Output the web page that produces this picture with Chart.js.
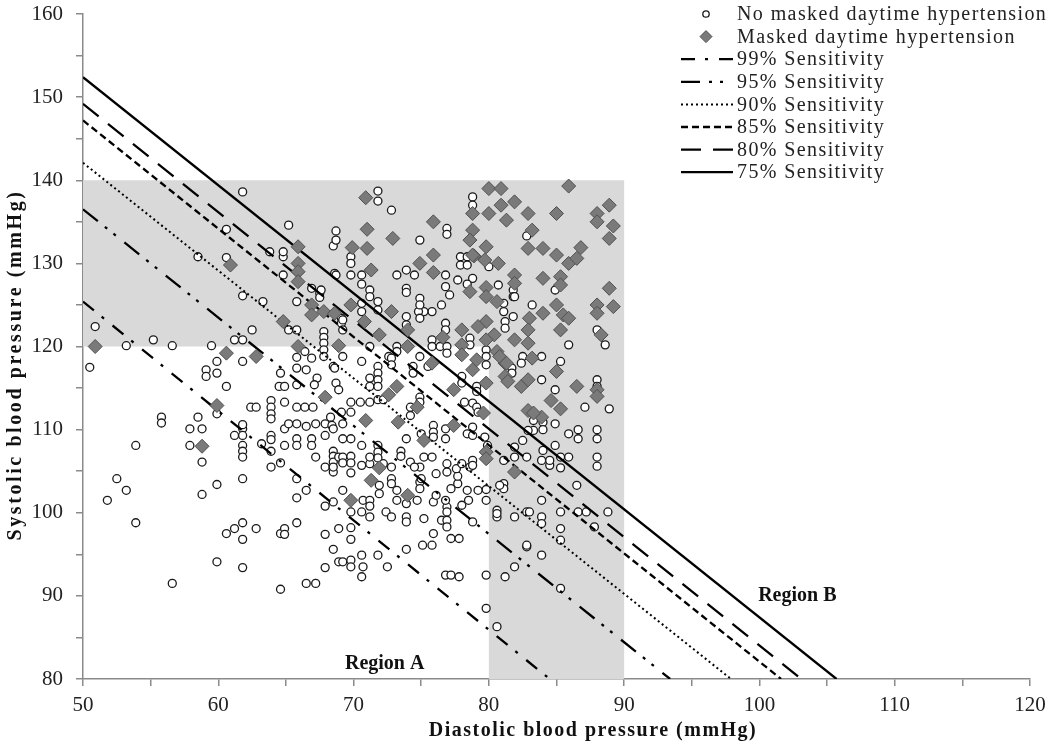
<!DOCTYPE html>
<html lang="en">
<head>
    <meta charset="UTF-8">
    <title>Masked daytime hypertension - sensitivity lines</title>
    <script src="https://cdn.jsdelivr.net/npm/chart.js"></script>
    <style>
        html, body { margin: 0; padding: 0; background: #fff; }
        .chart-container { position: relative; width: 1050px; height: 747px; }
    </style>
</head>
<body>
    <div class="chart-container">
        <canvas id="bpChart"></canvas>
    </div>

    <script>
        // points without masked daytime hypertension: [diastolic, systolic]
        const noMaskedPoints = [
            [50.5,117.5],[50.9,122.4],[51.8,101.5],[52.5,104.1],[53.2,102.7],[53.2,120.1],[53.9,108.1],[53.9,98.8],
            [55.2,120.8],[55.8,111.5],[55.8,110.8],[56.6,120.1],[56.6,91.5],[57.9,110.1],[58.8,110.1],[57.9,108.1],
            [58.8,106.1],[58.8,102.2],[58.5,111.5],[58.5,130.8],[59.1,117.2],[59.1,116.4],[59.5,120.1],[59.9,118.2],
            [59.9,116.8],[59.9,111.9],[59.9,103.4],[59.9,94.1],[60.6,115.2],[60.6,130.7],[60.6,134.1],[60.6,97.5],
            [61.2,120.8],[61.8,120.8],[61.8,118.2],[61.8,126.1],[61.8,138.6],[62.5,122.0],[63.3,125.4],[62.4,112.7],
            [62.8,112.7],[61.8,110.1],[61.8,109.3],[61.8,108.1],[61.8,107.4],[61.8,106.7],[61.8,104.1],[61.8,98.8],
            [61.8,96.8],[61.8,93.4],[61.8,110.6],[61.2,109.3],[61.2,98.1],[62.8,98.1],[63.2,108.3],[63.9,113.5],
            [63.9,112.7],[63.9,111.9],[63.9,111.3],[63.9,109.3],[63.9,108.8],[63.9,107.4],[63.9,105.5],[63.8,131.4],
            [64.5,115.2],[64.9,115.2],[64.6,116.8],[64.9,113.3],[64.6,106.0],[64.9,108.1],[64.9,110.1],[65.2,110.7],
            [64.6,97.5],[64.9,98.1],[64.9,97.4],[64.6,90.8],[64.8,130.8],[64.8,128.6],[64.8,131.4],[65.2,134.6],
            [65.2,122.0],[65.8,125.4],[65.8,122.0],[65.8,118.7],[65.8,117.4],[65.8,115.4],[65.8,112.7],[65.8,110.7],
            [65.8,108.9],[65.8,108.1],[65.8,104.1],[65.8,101.8],[65.8,98.8],[66.4,112.7],[66.4,119.4],[66.5,117.2],
            [66.5,110.4],[66.5,102.7],[66.5,91.5],[66.9,118.6],[66.9,108.9],[66.9,108.1],[66.9,127.0],[67.0,112.7],
            [67.2,106.7],[67.2,110.7],[67.2,91.5],[67.3,116.2],[67.1,115.4],[67.5,126.4],[67.5,125.9],[67.6,126.8],
            [67.8,121.8],[67.8,121.1],[67.8,120.4],[67.8,119.6],[67.8,118.8],[67.9,110.7],[67.9,109.3],[67.9,105.5],
            [67.9,100.8],[67.9,97.4],[67.9,93.4],[68.3,111.5],[68.4,110.5],[68.5,117.6],[68.5,110.1],[68.5,107.4],
            [68.5,106.8],[68.5,106.1],[68.5,104.9],[68.5,105.5],[68.5,101.3],[68.5,95.6],[68.5,132.1],[68.6,128.8],
            [68.6,117.4],[68.7,115.6],[68.7,128.6],[68.7,133.9],[68.7,132.8],[68.9,114.8],[68.9,98.1],[68.9,94.1],
            [68.9,106.7],[69.1,112.1],[69.1,123.4],[69.1,122.8],[69.2,118.8],[69.2,123.2],[69.2,122.0],[69.2,110.7],
            [69.2,108.9],[69.2,106.7],[69.2,106.0],[69.2,102.7],[69.2,94.1],[69.8,130.8],[69.8,130.0],[69.8,128.6],
            [70.6,128.6],[70.6,127.5],[71.2,126.8],[71.2,126.0],[71.8,125.4],[71.8,124.4],[70.6,125.2],[70.6,124.2],
            [73.9,123.6],[73.9,122.6],[73.2,120.0],[73.2,119.4],[71.2,120.0],[72.6,118.8],[70.6,118.2],[71.8,117.6],
            [71.8,116.8],[72.8,118.6],[72.8,117.8],[71.2,116.2],[71.8,116.0],[71.2,115.2],[71.8,115.2],[71.8,113.6],
            [72.2,113.6],[69.8,113.3],[69.8,112.1],[70.5,113.3],[71.2,113.3],[74.2,111.7],[74.2,112.7],[74.9,113.9],
            [74.9,113.3],[74.4,117.6],[74.4,116.8],[74.9,118.8],[75.5,117.6],[75.8,120.8],[75.8,120.0],[76.4,120.0],
            [76.9,120.0],[76.9,119.2],[76.8,122.8],[76.8,122.0],[75.8,124.2],[75.2,124.2],[74.8,124.2],[74.9,123.4],
            [74.9,125.8],[74.9,125.0],[76.5,125.0],[77.1,126.2],[76.8,127.2],[73.9,127.0],[73.9,126.5],[74.5,128.6],
            [73.9,129.2],[73.2,128.6],[76.8,128.6],[77.9,130.8],[78.4,130.8],[77.9,129.8],[78.4,129.8],[78.8,128.2],
            [77.7,128.0],[78.4,127.5],[80.0,129.6],[81.8,126.8],[81.8,126.0],[81.1,125.2],[81.1,124.2],[81.2,123.0],
            [81.2,122.2],[81.8,123.6],[78.6,121.0],[78.6,120.2],[79.8,119.6],[79.8,118.8],[79.8,117.8],[78.0,116.4],
            [78.0,115.6],[79.1,115.2],[79.1,114.6],[81.7,117.4],[81.7,116.8],[82.5,118.8],[82.4,118.0],[78.8,113.2],
            [79.1,112.7],[79.2,112.1],[78.2,113.3],[69.8,108.9],[70.6,108.1],[69.8,106.8],[69.8,106.0],[71.8,108.1],
            [71.8,107.3],[71.8,106.6],[70.6,105.7],[69.8,104.8],[71.2,105.9],[71.2,106.7],[72.2,105.9],[72.8,105.5],
            [72.8,104.1],[72.8,103.5],[71.9,103.3],[71.9,102.3],[70.7,101.5],[71.2,101.5],[71.2,100.8],[69.8,100.1],
            [70.6,100.1],[71.2,99.5],[72.4,100.1],[72.8,99.5],[73.2,101.5],[73.9,101.1],[73.9,99.5],[73.9,98.9],
            [73.2,102.7],[74.7,101.5],[74.9,103.7],[74.9,102.9],[75.0,104.1],[75.2,99.3],[75.9,101.3],[75.9,97.5],
            [75.1,96.1],[75.8,96.1],[76.5,99.1],[76.9,99.1],[76.9,98.3],[76.9,100.7],[76.9,100.1],[76.8,101.5],
            [77.2,96.9],[77.8,96.9],[78.0,100.9],[78.5,101.5],[78.8,98.9],[79.8,101.5],[79.8,102.8],[80.6,100.3],
            [80.6,99.5],[81.9,99.5],[81.1,103.5],[81.1,102.9],[80.8,103.3],[78.4,102.7],[79.2,102.7],[77.7,103.5],
            [77.7,104.4],[77.2,102.9],[76.1,102.1],[76.9,105.9],[76.9,104.9],[76.1,104.7],[74.9,105.5],[75.2,106.7],
            [75.8,106.7],[75.9,110.5],[75.9,109.7],[75.9,109.1],[76.8,110.1],[76.8,108.9],[75.0,109.5],[73.9,108.9],
            [73.5,107.4],[73.5,106.8],[74.2,106.1],[74.5,105.5],[77.6,105.3],[78.0,105.9],[78.6,105.5],[78.8,106.3],
            [78.8,105.7],[78.4,109.5],[78.8,110.3],[78.8,109.3],[79.7,109.1],[79.9,108.1],[82.8,95.9],[81.9,93.5],
            [81.2,92.3],[79.8,92.5],[76.8,92.5],[77.2,92.5],[77.8,92.3],[73.9,95.6],[72.5,93.5],[71.8,94.9],
            [70.6,94.9],[70.6,92.3],[69.8,94.3],[69.8,93.5],[70.7,93.5],[69.8,98.2],[69.8,96.8],[71.8,138.7],
            [71.8,137.5],[72.8,136.4],[76.9,134.2],[76.9,133.5],[74.9,132.8],[78.8,138.0],[78.8,137.0],[82.8,133.3],
            [80.7,127.4],[81.9,126.0],[84.9,126.8],[83.2,125.0],[85.9,120.2],[88.0,122.0],[88.6,120.2],[83.9,118.8],
            [85.3,118.2],[84.9,114.8],[83.9,116.0],[88.0,116.0],[88.0,115.2],[88.9,112.5],[87.1,112.7],[88.0,110.0],
            [88.0,108.9],[88.0,106.7],[88.0,105.6],[85.9,109.5],[86.6,108.9],[86.6,110.0],[85.9,106.7],[86.5,103.3],
            [85.3,106.7],[85.3,105.4],[84.9,110.7],[84.0,110.9],[84.0,110.0],[83.3,111.1],[83.3,109.9],[81.1,106.3],
            [81.9,106.7],[82.8,106.7],[83.9,106.3],[84.5,105.7],[84.5,106.3],[81.9,107.9],[82.9,109.9],[82.5,108.7],
            [84.0,107.5],[84.9,108.1],[80.6,99.9],[82.8,100.1],[83.0,100.1],[83.9,99.5],[83.9,98.7],[83.9,101.5],
            [85.3,100.1],[85.3,98.1],[85.3,96.7],[86.6,100.1],[87.2,100.1],[88.8,100.1],[82.8,96.1],[83.9,94.9],
            [85.3,90.9],[79.8,88.5],[80.6,86.3],[87.8,98.3]
        ];

        // points with masked daytime hypertension
        const maskedPoints = [
            [50.9,120.0],[58.8,108.0],[59.9,112.9],[60.6,119.2],[60.9,129.8],[62.8,118.8],[64.8,123.0],[65.9,120.0],
            [65.9,130.0],[65.9,129.0],[65.9,127.8],[65.9,132.0],[66.9,125.0],[66.9,123.8],[67.8,124.2],[68.6,124.0],
            [67.9,113.9],[68.9,120.1],[71.3,129.2],[69.8,125.0],[70.8,123.0],[72.8,124.2],[71.9,121.4],[74.0,122.0],
            [74.0,120.0],[73.2,115.2],[72.6,114.2],[74.7,112.7],[70.9,111.1],[73.3,110.9],[75.8,118.0],[76.6,121.1],
            [74.9,130.0],[75.9,131.0],[75.9,128.9],[78.9,130.9],[78.6,126.6],[79.7,130.4],[80.7,130.0],[81.9,128.6],
            [81.9,127.6],[79.8,127.1],[79.8,126.0],[80.6,125.4],[79.8,123.0],[79.2,122.4],[80.4,121.4],[81.9,120.8],
            [78.0,122.0],[78.0,120.2],[79.1,118.4],[78.0,119.0],[79.8,120.8],[80.6,119.4],[78.8,117.2],[77.4,114.8],
            [79.8,115.6],[81.2,116.4],[82.4,115.2],[81.4,115.8],[81.2,118.0],[79.6,112.0],[77.4,110.5],[75.2,108.7],
            [71.9,105.4],[71.3,103.9],[74.0,102.1],[69.8,101.5],[79.8,107.3],[79.8,106.5],[81.9,104.9],[70.9,137.9],
            [75.9,135.0],[71.0,134.1],[72.9,133.0],[69.9,131.9],[71.0,131.8],[80.0,139.0],[80.9,139.0],[85.9,139.3],
            [80.9,137.0],[81.9,137.4],[78.8,136.0],[80.0,136.0],[81.3,135.2],[82.9,136.0],[85.0,136.0],[88.0,136.0],
            [88.9,137.0],[88.0,135.0],[89.2,134.5],[88.9,133.0],[78.8,134.0],[83.2,134.0],[78.6,132.8],[79.8,132.0],
            [82.9,131.8],[84.0,131.8],[85.0,131.0],[85.9,130.0],[86.8,131.9],[86.5,130.6],[78.8,131.0],[84.0,128.2],
            [85.3,128.4],[85.3,127.4],[88.9,127.0],[88.0,125.0],[89.2,124.8],[88.0,124.0],[85.0,125.0],[84.0,124.0],
            [85.5,123.8],[85.9,123.4],[83.0,123.4],[82.9,122.0],[85.3,122.0],[82.9,120.4],[88.3,121.4],[85.0,117.0],
            [86.5,115.2],[88.0,114.8],[82.9,116.0],[83.2,118.6],[80.8,118.8],[81.3,118.0],[88.0,114.0],[84.6,113.5],
            [85.3,112.5],[83.9,111.5],[82.9,112.3],[83.3,112.0]
        ];

        // sensitivity cut-off lines: systolic at diastolic 50, diastolic where systolic reaches 80
        const sensLabels = ['99% Sensitivity', '95% Sensitivity', '90% Sensitivity', '85% Sensitivity', '80% Sensitivity', '75% Sensitivity'];
        const sensStartY = [125.4, 136.5, 142.1, 147.2, 149.2, 152.4];
        const sensEndX = [84.5, 93.4, 97.9, 101.6, 103.1, 105.7];
        const sensDash = [[14, 10, 3, 11], [19, 9, 3, 8, 3, 11], [2, 3], [7, 4], [20, 12], []];

        // shaded region (diastolic, systolic corners)
        const shadeX = [50, 90, 90, 80, 80, 50];
        const shadeY = [140, 140, 80, 80, 120, 120];

        const regionText = ['Region A', 'Region B'];
        const regionX = [72.3, 102.8];
        const regionY = [81.8, 90.0];

        const serif = "'Liberation Serif', 'Times New Roman', serif";

        const shadePlugin = {
            id: 'shade',
            beforeDatasetsDraw(chart) {
                const { ctx, scales: { x, y } } = chart;
                ctx.save();
                ctx.fillStyle = '#d9d9d9';
                ctx.beginPath();
                shadeX.forEach((v, i) => {
                    const px = x.getPixelForValue(v), py = y.getPixelForValue(shadeY[i]);
                    if (i === 0) ctx.moveTo(px, py); else ctx.lineTo(px, py);
                });
                ctx.closePath();
                ctx.fill();
                ctx.restore();
            }
        };

        // legend + region labels + axis titles
        const annotPlugin = {
            id: 'annot',
            afterDraw(chart) {
                const { ctx, scales: { x, y } } = chart;
                ctx.save();
                ctx.fillStyle = '#111';
                ctx.font = 'bold 20px ' + serif;
                ctx.textAlign = 'center';
                ctx.textBaseline = 'middle';
                regionText.forEach((t, i) => {
                    ctx.fillText(t, x.getPixelForValue(regionX[i]), y.getPixelForValue(regionY[i]));
                });

                // axis titles (letter-spaced like the original)
                ctx.letterSpacing = '1.5px';
                ctx.fillText('Diastolic blood pressure (mmHg)', 593, 731);
                ctx.save();
                ctx.translate(16, 365);
                ctx.rotate(-Math.PI / 2);
                ctx.letterSpacing = '2.6px';
                ctx.fillText('Systolic blood pressure (mmHg)', 0, 0);
                ctx.restore();

                // legend
                const rowY = (i) => 14 + i * 22.6;
                ctx.font = '20px ' + serif;
                ctx.letterSpacing = '1.4px';
                ctx.textAlign = 'left';
                ctx.fillStyle = '#222';
                const ds = chart.data.datasets;
                ds.forEach((d, i) => {
                    const cy = rowY(i);
                    if (d.type === 'line') {
                        ctx.save();
                        ctx.strokeStyle = '#000';
                        ctx.lineWidth = d.borderWidth;
                        ctx.setLineDash(d.borderDash || []);
                        ctx.beginPath();
                        ctx.moveTo(681, cy);
                        ctx.lineTo(733, cy);
                        ctx.stroke();
                        ctx.restore();
                    } else {
                        ctx.save();
                        ctx.fillStyle = d.backgroundColor;
                        ctx.strokeStyle = d.borderColor;
                        ctx.lineWidth = d.borderWidth;
                        ctx.beginPath();
                        if (d.pointStyle === 'rectRot') {
                            const r = 6;
                            ctx.moveTo(706 - r, cy); ctx.lineTo(706, cy - r);
                            ctx.lineTo(706 + r, cy); ctx.lineTo(706, cy + r);
                            ctx.closePath();
                        } else {
                            ctx.arc(706, cy, 3.2, 0, Math.PI * 2);
                        }
                        ctx.fill();
                        ctx.stroke();
                        ctx.restore();
                    }
                    ctx.fillText(d.label, 737, cy + 1);
                });
                ctx.restore();
            }
        };

        const datasets = [
            {
                type: 'scatter',
                label: 'No masked daytime hypertension',
                data: noMaskedPoints.map(p => ({ x: p[0], y: p[1] })),
                pointStyle: 'circle',
                pointRadius: 4,
                backgroundColor: '#ffffff',
                borderColor: '#1a1a1a',
                borderWidth: 1.3,
                order: 3
            },
            {
                type: 'scatter',
                label: 'Masked daytime hypertension',
                data: maskedPoints.map(p => ({ x: p[0], y: p[1] })),
                pointStyle: 'rectRot',
                pointRadius: 7,
                backgroundColor: '#7a7a7a',
                borderColor: '#505050',
                borderWidth: 1,
                order: 1
            }
        ];

        sensLabels.forEach((lab, i) => {
            datasets.push({
                type: 'line',
                label: lab,
                data: [{ x: 50, y: sensStartY[i] }, { x: sensEndX[i], y: 80 }],
                borderColor: '#000',
                borderWidth: i === 2 ? 2 : 2.3,
                borderDash: sensDash[i],
                pointRadius: 0,
                fill: false,
                order: 2
            });
        });

        new Chart(document.getElementById('bpChart'), {
            data: { datasets: datasets },
            options: {
                responsive: true,
                maintainAspectRatio: false,
                animation: false,
                events: [],
                layout: { padding: { top: 14, right: 20, left: 0, bottom: 0 } },
                plugins: {
                    legend: { display: false },
                    tooltip: { enabled: false }
                },
                scales: {
                    x: {
                        type: 'linear',
                        min: 50,
                        max: 120,
                        afterFit: (s) => { s.height = 68; s.paddingLeft = 0; s.paddingRight = 0; },
                        border: { color: '#8a8a8a', width: 1.5 },
                        grid: { drawOnChartArea: false, drawTicks: true, tickLength: 7, color: '#8a8a8a', lineWidth: 1.5 },
                        ticks: {
                            stepSize: 5,
                            autoSkip: false,
                            maxRotation: 0,
                            padding: 7,
                            color: '#222',
                            font: { family: serif, size: 21 },
                            callback: (v) => (v % 10 === 0 ? v : '')
                        }
                    },
                    y: {
                        type: 'linear',
                        min: 80,
                        max: 160,
                        afterFit: (s) => { s.width = 83; s.paddingTop = 0; s.paddingBottom = 0; },
                        border: { color: '#8a8a8a', width: 1.5 },
                        grid: { drawOnChartArea: false, drawTicks: true, tickLength: 7, color: '#8a8a8a', lineWidth: 1.5 },
                        ticks: {
                            stepSize: 5,
                            autoSkip: false,
                            padding: 13,
                            color: '#222',
                            font: { family: serif, size: 21 },
                            callback: (v) => (v % 10 === 0 ? v : '')
                        }
                    }
                }
            },
            plugins: [shadePlugin, annotPlugin]
        });
    </script>
</body>
</html>
